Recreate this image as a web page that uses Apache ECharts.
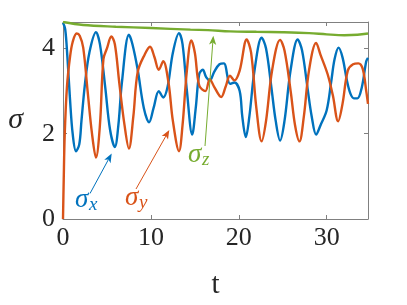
<!DOCTYPE html>
<html>
<head>
<meta charset="utf-8">
<script src="https://cdn.jsdelivr.net/npm/echarts@6/dist/echarts.min.js"></script>
<style>html,body{margin:0;padding:0;background:#fff}#c{width:407px;height:305px}</style>
</head>
<body>
<div id="c"></div>
<script>
// sigma_x (blue)
var tX = [0,0.25,0.5,0.8,1.1,1.48,1.85,2.1,2.5,3.0,3.75,4.2,4.8,5.35,5.9,6.3,6.7,7.5,7.9,8.5,9.2,9.8,10.3,10.9,11.4,11.9,12.5,13.2,13.6,14.1,14.7,15.1,15.5,15.9,16.3,16.7,17.2,17.8,18.3,19.0,19.5,20.1,20.4,20.8,21.2,21.8,22.6,23.1,23.7,24.2,24.7,25.2,25.9,26.7,27.2,27.8,28.3,28.8,29.3,30.0,30.5,30.9,31.35,31.8,32.3,32.7,33.1,33.5,34.0,34.5,34.7];
var sigmaX = [4.60,4.45,3.8,2.8,2.0,1.59,1.75,2.3,3.17,3.9,4.38,4.1,3.1,2.1,1.69,2.2,3.2,4.32,4.1,3.5,2.6,2.27,2.6,3.0,2.85,3.1,3.9,4.36,4.1,3.0,1.98,2.6,3.4,3.5,3.32,3.25,3.45,3.63,3.65,3.17,3.2,3.0,2.4,1.92,2.4,3.5,4.25,4.0,3.1,2.3,1.84,2.3,3.5,4.21,3.95,3.1,2.4,1.98,2.2,2.55,3.2,3.75,4.02,3.79,3.25,2.94,2.83,2.83,3.09,3.7,3.78];
// sigma_y (orange)
var tY = [0,0.08,0.2,0.45,0.8,1.1,1.55,1.9,2.3,2.8,3.3,3.75,4.2,4.6,5.0,5.5,5.9,6.4,7.0,7.5,8.0,8.5,9.3,9.9,10.4,10.9,11.4,12.0,12.5,13.2,13.6,14.1,14.6,15.0,15.5,16.2,16.7,17.2,18.0,18.5,19.0,19.5,20.1,20.9,21.4,22.0,22.6,23.1,23.8,24.7,25.2,25.9,26.4,26.9,27.4,28.0,28.8,29.3,30.1,30.7,31.3,31.8,32.4,33.0,33.6,34.1,34.5,34.7];
var sigmaY = [0,0.9,2.0,3.1,3.8,4.15,4.35,4.3,4.02,3.0,2.0,1.44,2.2,3.75,4.0,4.28,4.1,3.2,2.2,1.65,2.4,3.45,3.86,4.04,3.8,3.5,3.7,3.2,2.3,1.59,2.2,3.5,4.19,3.9,3.13,3.0,3.28,3.1,2.86,3.1,3.36,3.25,3.48,4.21,3.9,2.6,1.82,2.3,3.5,4.2,3.95,3.0,2.2,1.82,2.4,3.5,4.13,3.85,3.4,2.9,2.29,2.7,3.48,3.63,3.65,3.52,3.0,2.7];
// sigma_z (green)
var tZ = [0,2.3,6,10,14.5,16.5,19,22,25,28,30,32,33.5,34.7];
var sigmaZ = [4.62,4.55,4.51,4.48,4.44,4.43,4.40,4.39,4.38,4.36,4.33,4.31,4.32,4.35];
var xTicks = [0,10,20,30];
var yTicks = [0,2,4];

function pairs(t, s){ return t.map(function(v,i){ return [v, s[i]]; }); }

var chart = echarts.init(document.getElementById('c'), null, {renderer:'canvas'});
var axisGray = '#808080';
var txt = '#262626';
var serif = '"DejaVu Serif", serif';
var serifL = '"Liberation Serif", "DejaVu Serif", serif';
function baseX(pos, show){
  return {type:'value', min:0, max:34.7, interval:10, position:pos,
    axisLine:{show:true, onZero:false, lineStyle:{color:axisGray, width:1}},
    axisTick:{show:true, inside:true, length:4, lineStyle:{color:axisGray}},
    splitLine:{show:false},
    axisLabel:{show:show, margin:6, fontFamily:serifL, fontSize:26, color:txt,
      formatter:function(v){ return xTicks.indexOf(v)>=0 ? String(v) : ''; }}};
}
function baseY(pos, show){
  return {type:'value', min:0, max:4.62, interval:2, position:pos,
    axisLine:{show:true, onZero:false, lineStyle:{color:axisGray, width:1}},
    axisTick:{show:true, inside:true, length:4, lineStyle:{color:axisGray}},
    splitLine:{show:false},
    axisLabel:{show:show, margin:8, fontFamily:serifL, fontSize:26, color:txt,
      formatter:function(v){ return yTicks.indexOf(v)>=0 ? String(v) : ''; }}};
}
var xa0 = baseX('bottom', true);
xa0.name = 't'; xa0.nameLocation = 'middle'; xa0.nameGap = 52;
xa0.nameTextStyle = {fontFamily:serifL, fontSize:29, color:txt};
var ya0 = baseY('left', true);
ya0.name = 'σ'; ya0.nameLocation = 'middle'; ya0.nameGap = 40; ya0.nameRotate = 0;
ya0.nameTextStyle = {fontFamily:serifL, fontStyle:'italic', fontSize:30, color:txt};

function lineSeries(name, data, color){
  return {name:name, type:'line', data:data, showSymbol:false, symbol:'none', smooth:0.35,
    xAxisIndex:0, yAxisIndex:0, clip:true,
    lineStyle:{color:color, width:2.4}};
}

var blue = '#0072BD', orange = '#D95319', green = '#77AC30';

function arrow(x1,y1,x2,y2,color){
  var dx = x2-x1, dy = y2-y1, L = Math.sqrt(dx*dx+dy*dy);
  var ux = dx/L, uy = dy/L, hl = 9, hw = 3.6;
  var bx = x2-ux*hl, by = y2-uy*hl;
  var bk = x2-ux*hl*0.75, bky = y2-uy*hl*0.75;
  return [
    {type:'line', shape:{x1:x1,y1:y1,x2:bk,y2:bky}, style:{stroke:color, lineWidth:1}, z:100},
    {type:'polygon', shape:{points:[[x2,y2],[bx-uy*hw,by+ux*hw],[bk,bky],[bx+uy*hw,by-ux*hw]]}, style:{fill:color}, z:100}
  ];
}
function label(x,y,sub,color){
  return [
    {type:'text', left:x, top:y, style:{text:'σ', fontStyle:'italic', fontSize:27, fontFamily:serifL, fill:color}, z:100},
    {type:'text', left:x+14, top:y+9, style:{text:sub, fontStyle:'italic', fontSize:19, fontFamily:serifL, fill:color}, z:100}
  ];
}
var g = [].concat(
  arrow(90,193.5,111.7,153.5,blue),
  arrow(136,189,169.3,130,orange),
  arrow(205,146,213.3,35.7,green),
  label(75,186,'x',blue),
  label(125,184,'y',orange),
  label(188,141,'z',green)
);

chart.setOption({
  animation:false,
  backgroundColor:'#fff',
  grid:{left:63, right:39, top:22, bottom:83, containLabel:false},
  xAxis:[xa0, baseX('top', false)],
  yAxis:[ya0, baseY('right', false)],
  series:[
    lineSeries('σx', pairs(tX, sigmaX), blue),
    lineSeries('σy', pairs(tY, sigmaY), orange),
    lineSeries('σz', pairs(tZ, sigmaZ), green)
  ],
  graphic:g
});
</script>
</body>
</html>
